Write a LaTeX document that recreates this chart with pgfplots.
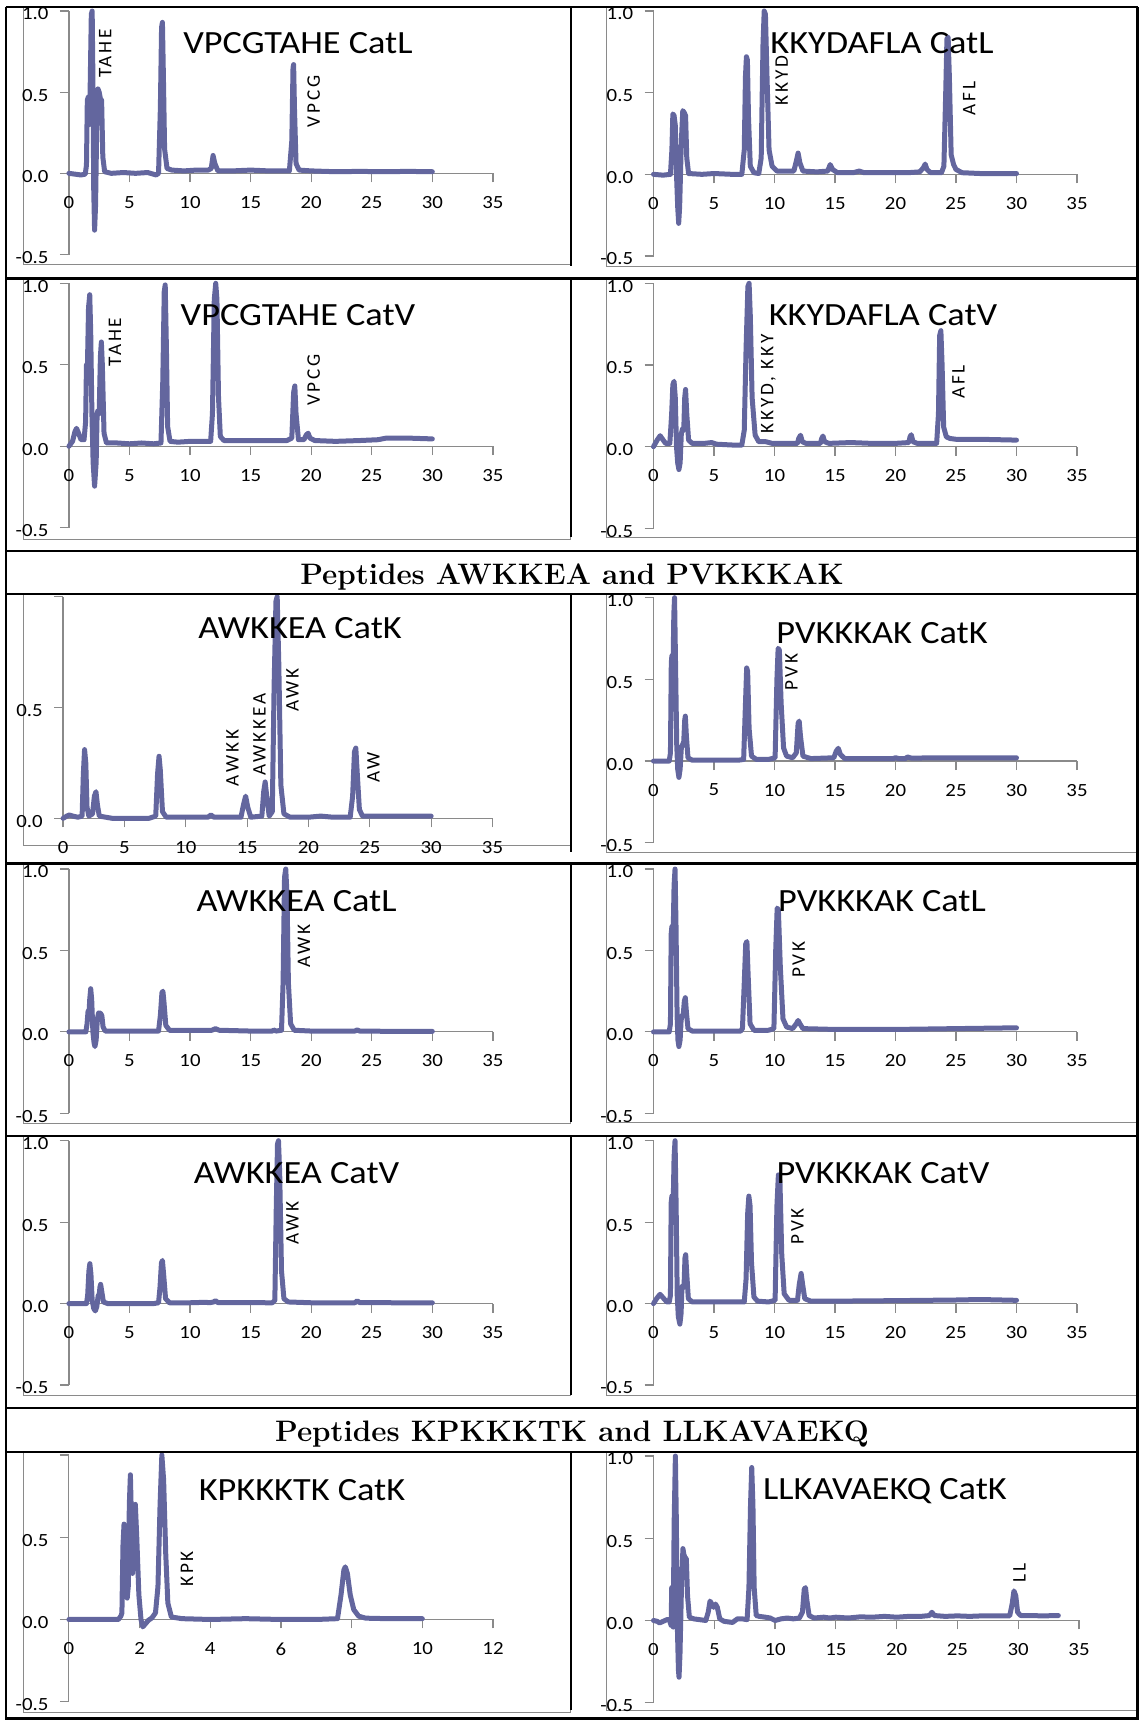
\documentclass[border=0pt]{standalone}
\usepackage{pgfplots}
\pgfplotsset{compat=1.18}
\usepackage{fontspec}
\newfontfamily\excel[FakeStretch=1.12]{Carlito}
\newfontfamily\annotfam[LetterSpace=15]{Carlito}
\definecolor{trace}{RGB}{99,102,158}
\definecolor{axgray}{RGB}{138,138,138}
\pgfplotsset{
  chrom/.style={
    scale only axis, clip=false,
    xmin=0, xmax=35, ymin=-0.5, ymax=1,
    axis x line*=middle, axis y line*=left,
    hide obscured x ticks=false, hide obscured y ticks=false,
    xtick={0,5,...,35}, xticklabels={0,5,10,15,20,25,30,35},
    ytick={-0.5,0,0.5,1}, yticklabels={-0.5,0.0,0.5,1.0},
    tick align=outside, major tick length=4.5pt,
    axis line style={draw=axgray, line width=0.6pt},
    every tick/.style={draw=axgray, line width=0.6pt},
    tick label style={font=\excel\fontsize{9.3}{10}\selectfont, inner sep=0pt},
    yticklabel style={anchor=east, xshift=-5.5pt, yshift=-1.5pt},
    xticklabel style={anchor=north, yshift=-6.8pt},
  },
  tr/.style={trace, line width=2.5pt, line join=round, line cap=round},
}
\tikzset{
  an/.style={rotate=90, anchor=west, inner sep=0pt, font=\annotfam\fontsize{9.6}{10}\selectfont},
  ttl/.style={anchor=base, inner sep=0pt, font=\excel\fontsize{16.2}{18}\selectfont},
  hdr/.style={anchor=base, inner sep=0pt, font=\fontsize{14.8}{17}\selectfont\bfseries},
}
\begin{document}
\begin{tikzpicture}[x=0.5pt,y=-0.5pt]
\useasboundingbox (0,0) rectangle (1139,1720);
% chart area boxes
\begin{scope}[draw=axgray, line width=0.5pt]
\draw (23.5,7) rectangle (570,264);
\draw (606,7) rectangle (1160,266);
\draw (23.5,279) rectangle (570,539);
\draw (606,279) rectangle (1160,537);
\draw (23.5,594) rectangle (570,845);
\draw (606,594) rectangle (1160,852);
\draw (23.5,864) rectangle (570,1123);
\draw (606,864) rectangle (1160,1122);
\draw (23.5,1136) rectangle (570,1395);
\draw (606,1136) rectangle (1160,1395);
\draw (23.5,1452) rectangle (570,1712);
\draw (606,1452) rectangle (1160,1710);
\end{scope}

% ---------- P1 VPCGTAHE CatL
\begin{axis}[chrom, width=212pt, height=121.75pt, at={(34.45pt,-127.25pt)}, anchor=south west]
\addplot[tr] coordinates {(0,0) (0.5,-0.005) (1.0,-0.01) (1.35,-0.005) (1.45,0.05) (1.52,0.45) (1.6,0.47) (1.68,0.3) (1.75,0.5) (1.85,0.98) (1.92,1.0) (1.98,0.6) (2.05,-0.1) (2.12,-0.35) (2.2,-0.2) (2.3,0.3) (2.4,0.52) (2.5,0.5) (2.6,0.46) (2.7,0.45) (2.8,0.1) (2.95,0.01) (3.5,0.0) (4.5,0.005) (5.5,0.0) (6.5,0.005) (7.2,-0.01) (7.4,0.0) (7.55,0.4) (7.65,0.9) (7.72,0.93) (7.8,0.6) (7.9,0.15) (8.1,0.03) (8.5,0.02) (9.5,0.015) (10.5,0.02) (11.5,0.02) (11.75,0.03) (11.9,0.11) (12.05,0.06) (12.3,0.015) (13.5,0.015) (15,0.02) (16.5,0.015) (18.2,0.015) (18.4,0.2) (18.5,0.65) (18.55,0.67) (18.62,0.4) (18.75,0.06) (19,0.02) (20,0.015) (22,0.01) (24,0.012) (26,0.01) (28,0.012) (30,0.01)};
\node[an] at (axis cs:3.0,0.585) {TAHE};
\node[an] at (axis cs:20.2,0.28) {VPCG};
\end{axis}
\node[ttl] at (298,53.3) {VPCGTAHE CatL};

% ---------- P2 KKYDAFLA CatL
\begin{axis}[chrom, width=211.75pt, height=122.5pt, at={(326.75pt,-128pt)}, anchor=south west]
\addplot[tr] coordinates {(0,0) (0.8,-0.005) (1.4,0.0) (1.52,0.15) (1.6,0.37) (1.7,0.36) (1.8,0.3) (1.9,0.0) (2.0,-0.2) (2.08,-0.3) (2.16,-0.2) (2.3,0.2) (2.42,0.39) (2.52,0.38) (2.65,0.36) (2.75,0.1) (2.9,0.005) (4,0.0) (5,0.005) (6.5,0.0) (7.3,0.0) (7.5,0.15) (7.6,0.6) (7.68,0.72) (7.76,0.7) (7.85,0.35) (8.0,0.05) (8.3,0.01) (8.7,0.005) (8.9,0.1) (9.05,0.8) (9.15,1.0) (9.25,0.98) (9.38,0.6) (9.55,0.15) (9.8,0.05) (10.2,0.02) (11.0,0.02) (11.6,0.02) (11.8,0.08) (11.95,0.13) (12.1,0.07) (12.35,0.02) (13.5,0.015) (14.4,0.02) (14.6,0.06) (14.8,0.03) (15.2,0.01) (16.5,0.01) (17.0,0.02) (17.4,0.01) (19,0.01) (21,0.01) (22.0,0.015) (22.3,0.04) (22.45,0.063) (22.6,0.03) (22.9,0.01) (23.8,0.01) (24.0,0.05) (24.15,0.5) (24.25,0.83) (24.35,0.84) (24.45,0.6) (24.6,0.12) (24.8,0.06) (25.0,0.03) (25.5,0.01) (27,0.005) (30,0.005)};
\node[an] at (axis cs:10.6,0.42) {KKYD};
\node[an] at (axis cs:26.1,0.36) {AFL};
\end{axis}
\node[ttl] at (882,53.3) {KKYDAFLA CatL};

% ---------- P3 VPCGTAHE CatV
\begin{axis}[chrom, width=212pt, height=122.2pt, at={(34.45pt,-263.85pt)}, anchor=south west]
\addplot[tr] coordinates {(0,0.0) (0.3,0.03) (0.5,0.09) (0.63,0.11) (0.8,0.08) (1.0,0.04) (1.25,0.04) (1.38,0.15) (1.45,0.5) (1.52,0.45) (1.62,0.85) (1.72,0.93) (1.8,0.7) (1.9,0.2) (2.0,-0.1) (2.12,-0.245) (2.25,-0.1) (2.33,0.2) (2.4,0.22) (2.5,0.2) (2.6,0.55) (2.68,0.64) (2.76,0.5) (2.9,0.08) (3.1,0.02) (4,0.02) (5,0.015) (6,0.02) (7,0.015) (7.6,0.02) (7.75,0.4) (7.87,0.95) (7.95,0.99) (8.05,0.6) (8.15,0.12) (8.35,0.03) (9,0.025) (10,0.03) (11,0.03) (11.7,0.03) (11.85,0.2) (12.0,0.9) (12.12,1.0) (12.22,0.9) (12.35,0.3) (12.5,0.06) (12.8,0.035) (14,0.035) (16,0.035) (18,0.035) (18.4,0.05) (18.55,0.33) (18.65,0.37) (18.75,0.2) (18.95,0.04) (19.4,0.04) (19.6,0.07) (19.75,0.08) (19.9,0.05) (20.3,0.035) (22,0.03) (24,0.035) (25.5,0.04) (26.2,0.05) (28,0.05) (30,0.045)};
\node[an] at (axis cs:3.8,0.486) {TAHE};
\node[an] at (axis cs:20.2,0.245) {VPCG};
\end{axis}
\node[ttl] at (298,325) {VPCGTAHE CatV};

% ---------- P4 KKYDAFLA CatV
\begin{axis}[chrom, width=211.75pt, height=122.5pt, at={(326.75pt,-264.15pt)}, anchor=south west]
\addplot[tr] coordinates {(0,0.0) (0.3,0.04) (0.55,0.067) (0.8,0.04) (1.0,0.02) (1.35,0.02) (1.5,0.2) (1.6,0.38) (1.7,0.40) (1.8,0.3) (1.9,0.0) (2.0,-0.1) (2.1,-0.14) (2.2,-0.1) (2.3,0.08) (2.4,0.11) (2.5,0.1) (2.58,0.3) (2.65,0.35) (2.75,0.2) (2.9,0.04) (3.2,0.02) (4.2,0.02) (4.8,0.025) (5.2,0.015) (6.5,0.01) (7.3,0.01) (7.5,0.1) (7.65,0.6) (7.8,0.98) (7.9,1.0) (8.0,0.8) (8.15,0.3) (8.4,0.07) (8.7,0.03) (9.3,0.03) (9.8,0.02) (11,0.02) (11.9,0.02) (12.0,0.05) (12.15,0.07) (12.3,0.03) (12.6,0.02) (13.8,0.02) (13.9,0.05) (14.0,0.065) (14.15,0.03) (14.5,0.02) (16.3,0.025) (18,0.02) (20,0.02) (21.1,0.025) (21.2,0.06) (21.3,0.073) (21.45,0.03) (21.8,0.02) (23.4,0.02) (23.55,0.2) (23.65,0.68) (23.75,0.71) (23.85,0.5) (23.98,0.12) (24.2,0.06) (24.5,0.05) (25,0.045) (27,0.045) (30,0.04)};
\node[an] at (axis cs:9.5,0.08) {KKYD, KKY};
\node[an] at (axis cs:25.2,0.29) {AFL};
\end{axis}
\node[ttl] at (883,325) {KKYDAFLA CatV};

% ---------- P5 AWKKEA CatK
\begin{axis}[chrom, ymin=0, ytick={0,0.5,1}, yticklabels={0.0,0.5,{}}, width=214.7pt, height=110.8pt, at={(31.55pt,-409.15pt)}, anchor=south west]
\addplot[tr] coordinates {(0,0.0) (0.3,0.01) (0.5,0.015) (0.8,0.01) (1.2,0.005) (1.55,0.01) (1.65,0.2) (1.75,0.31) (1.85,0.25) (1.95,0.05) (2.1,0.01) (2.4,0.02) (2.55,0.1) (2.68,0.12) (2.8,0.06) (2.95,0.01) (4,0.0) (5,0.0) (6,0.0) (7,0.0) (7.55,0.01) (7.7,0.2) (7.82,0.28) (7.92,0.22) (8.1,0.03) (8.4,0.005) (10,0.005) (11.8,0.005) (12.05,0.015) (12.3,0.005) (14.5,0.005) (14.7,0.06) (14.88,0.1) (15.05,0.05) (15.3,0.005) (16.2,0.01) (16.35,0.12) (16.47,0.164) (16.6,0.1) (16.8,0.01) (17.05,0.03) (17.2,0.6) (17.35,0.98) (17.45,1.0) (17.58,0.7) (17.75,0.15) (18.0,0.02) (18.5,0.005) (20,0.005) (21,0.01) (22,0.005) (23.4,0.005) (23.6,0.1) (23.75,0.3) (23.86,0.317) (23.98,0.2) (24.15,0.04) (24.4,0.01) (26,0.01) (28,0.01) (30,0.01)};
\node[an] at (axis cs:13.8,0.144) {AWKK};
\node[an] at (axis cs:16.0,0.19) {AWKKEA};
\node[an] at (axis cs:18.7,0.48) {AWK};
\node[an] at (axis cs:25.3,0.16) {AW};
\end{axis}
\node[ttl] at (300,638) {AWKKEA CatK};

% ---------- P6 PVKKKAK CatK
\begin{axis}[chrom, width=211.75pt, height=122.5pt, at={(326.75pt,-421.35pt)}, anchor=south west]
\addplot[tr] coordinates {(0,0.0) (0.8,0.0) (1.3,0.0) (1.4,0.05) (1.47,0.6) (1.52,0.645) (1.6,0.5) (1.68,0.9) (1.74,1.0) (1.82,0.6) (1.92,0.1) (2.0,-0.05) (2.1,-0.1) (2.2,-0.05) (2.3,0.08) (2.4,0.1) (2.5,0.12) (2.58,0.25) (2.63,0.275) (2.72,0.15) (2.85,0.02) (3.2,0.005) (5,0.005) (7,0.005) (7.45,0.01) (7.6,0.35) (7.7,0.57) (7.78,0.55) (7.9,0.2) (8.1,0.03) (8.5,0.01) (9.5,0.01) (10.05,0.02) (10.2,0.5) (10.3,0.69) (10.4,0.68) (10.55,0.35) (10.75,0.08) (11.0,0.03) (11.5,0.02) (11.8,0.05) (11.95,0.23) (12.04,0.245) (12.15,0.15) (12.35,0.03) (13,0.015) (14.9,0.02) (15.1,0.06) (15.27,0.078) (15.45,0.04) (15.8,0.015) (17,0.015) (19.8,0.015) (20,0.02) (20.3,0.015) (20.8,0.015) (21,0.025) (21.3,0.018) (24,0.02) (27,0.02) (30,0.02)};
\node[an] at (axis cs:11.4,0.43) {PVK};
\end{axis}
\node[ttl] at (882,643.3) {PVKKKAK CatK};

% ---------- P7 AWKKEA CatL
\begin{axis}[chrom, width=212pt, height=122.15pt, at={(34.45pt,-556.65pt)}, anchor=south west]
\addplot[tr] coordinates {(0,0.0) (1.0,0.0) (1.4,0.0) (1.5,0.05) (1.58,0.127) (1.65,0.1) (1.72,0.2) (1.8,0.265) (1.88,0.2) (1.98,0.0) (2.08,-0.07) (2.15,-0.09) (2.25,-0.05) (2.35,0.08) (2.45,0.116) (2.6,0.115) (2.72,0.1) (2.82,0.03) (3.0,0.005) (5,0.005) (7,0.005) (7.4,0.005) (7.55,0.1) (7.68,0.24) (7.76,0.25) (7.85,0.18) (8.0,0.04) (8.3,0.01) (10,0.01) (11.8,0.01) (12.1,0.02) (12.4,0.01) (15,0.005) (16.8,0.005) (16.9,0.012) (17.1,0.005) (17.55,0.01) (17.68,0.3) (17.8,0.95) (17.9,1.0) (18.0,0.85) (18.12,0.3) (18.3,0.05) (18.6,0.01) (20,0.005) (23.6,0.005) (23.8,0.012) (24.0,0.005) (27,0.003) (30,0.003)};
\node[an] at (axis cs:19.4,0.39) {AWK};
\end{axis}
\node[ttl] at (296.6,911.7) {AWKKEA CatL};

% ---------- P8 PVKKKAK CatL
\begin{axis}[chrom, width=211.75pt, height=122.15pt, at={(326.75pt,-556.65pt)}, anchor=south west]
\addplot[tr] coordinates {(0,0.0) (1.0,0.0) (1.3,0.0) (1.4,0.05) (1.46,0.6) (1.52,0.647) (1.6,0.5) (1.7,0.9) (1.78,1.0) (1.86,0.65) (1.95,0.1) (2.02,-0.05) (2.1,-0.09) (2.2,-0.05) (2.28,0.07) (2.35,0.1) (2.45,0.1) (2.55,0.19) (2.63,0.21) (2.72,0.12) (2.85,0.02) (3.2,0.005) (5,0.005) (7.2,0.005) (7.35,0.02) (7.5,0.3) (7.62,0.54) (7.72,0.555) (7.82,0.35) (7.98,0.05) (8.3,0.01) (9.5,0.01) (9.95,0.02) (10.1,0.5) (10.22,0.76) (10.32,0.75) (10.48,0.4) (10.7,0.08) (11.0,0.03) (11.5,0.02) (11.8,0.05) (11.95,0.07) (12.1,0.05) (12.35,0.02) (15,0.015) (20,0.015) (25,0.02) (30,0.025)};
\node[an] at (axis cs:12.0,0.33) {PVK};
\end{axis}
\node[ttl] at (882,911.7) {PVKKKAK CatL};

% ---------- P9 AWKKEA CatV
\begin{axis}[chrom, width=212pt, height=122.15pt, at={(34.45pt,-692.5pt)}, anchor=south west]
\addplot[tr] coordinates {(0,0.0) (1.0,0.0) (1.45,0.0) (1.55,0.05) (1.65,0.2) (1.73,0.245) (1.82,0.18) (1.92,0.02) (2.05,-0.03) (2.18,-0.045) (2.3,-0.02) (2.42,0.05) (2.5,0.05) (2.56,0.1) (2.62,0.118) (2.7,0.08) (2.85,0.01) (3.2,0.0) (5,0.0) (7,0.0) (7.4,0.005) (7.52,0.1) (7.64,0.25) (7.72,0.265) (7.82,0.18) (7.98,0.03) (8.3,0.005) (10,0.005) (11.3,0.008) (11.6,0.005) (11.95,0.01) (12.1,0.018) (12.3,0.006) (16.8,0.005) (17.0,0.02) (17.12,0.6) (17.22,0.98) (17.3,1.0) (17.4,0.8) (17.55,0.2) (17.75,0.03) (18.1,0.01) (20,0.005) (23.6,0.005) (23.8,0.017) (24.0,0.006) (27,0.005) (30,0.005)};
\node[an] at (axis cs:18.45,0.36) {AWK};
\end{axis}
\node[ttl] at (296.6,1183.3) {AWKKEA CatV};

% ---------- P10 PVKKKAK CatV
\begin{axis}[chrom, width=211.75pt, height=122.15pt, at={(326.75pt,-692.5pt)}, anchor=south west]
\addplot[tr] coordinates {(0,0.0) (0.25,0.03) (0.54,0.057) (0.8,0.035) (1.1,0.01) (1.3,0.01) (1.4,0.05) (1.46,0.62) (1.52,0.66) (1.6,0.5) (1.7,0.9) (1.78,1.0) (1.87,0.6) (1.96,0.05) (2.05,-0.08) (2.18,-0.126) (2.28,-0.06) (2.35,0.1) (2.42,0.11) (2.52,0.1) (2.6,0.28) (2.66,0.30) (2.75,0.18) (2.88,0.03) (3.2,0.01) (5,0.01) (7,0.01) (7.5,0.01) (7.65,0.15) (7.78,0.55) (7.88,0.66) (7.98,0.6) (8.1,0.25) (8.3,0.04) (8.6,0.015) (9.5,0.01) (10.05,0.02) (10.2,0.6) (10.32,0.79) (10.45,0.75) (10.6,0.3) (10.8,0.06) (11.2,0.02) (11.9,0.02) (12.05,0.12) (12.2,0.185) (12.32,0.12) (12.5,0.03) (13,0.015) (15,0.015) (20,0.018) (25,0.022) (27,0.025) (30,0.02)};
\node[an] at (axis cs:11.9,0.36) {PVK};
\end{axis}
\node[ttl] at (883,1183.3) {PVKKKAK CatV};

% ---------- P11 KPKKKTK CatK
\begin{axis}[chrom, xmax=12, xtick={0,2,...,12}, xticklabels={0,2,4,6,8,10,12}, yticklabels={-0.5,0.0,0.5,{}}, width=212.05pt, height=123.35pt, at={(34.45pt,-850.85pt)}, anchor=south west]
\addplot[tr] coordinates {(0,0.0) (0.5,0.0) (1.0,0.0) (1.4,0.0) (1.47,0.02) (1.5,0.04) (1.53,0.45) (1.56,0.58) (1.6,0.4) (1.65,0.13) (1.68,0.2) (1.71,0.7) (1.74,0.88) (1.77,0.6) (1.8,0.28) (1.84,0.6) (1.88,0.70) (1.92,0.5) (1.98,0.15) (2.04,0.0) (2.09,-0.045) (2.15,-0.03) (2.25,-0.005) (2.35,0.01) (2.45,0.04) (2.52,0.2) (2.58,0.7) (2.63,1.0) (2.68,0.85) (2.74,0.4) (2.8,0.1) (2.9,0.015) (3.2,0.005) (4,0.0) (5,0.005) (6,0.0) (7,0.0) (7.6,0.005) (7.7,0.15) (7.78,0.3) (7.82,0.32) (7.88,0.28) (7.96,0.15) (8.06,0.06) (8.2,0.02) (8.4,0.008) (9,0.005) (10,0.005)};
\node[an] at (axis cs:3.34,0.196) {KPK};
\end{axis}
\node[ttl] at (302,1500.7) {KPKKKTK CatK};

% ---------- P12 LLKAVAEKQ CatK
\begin{axis}[chrom, width=212.75pt, height=123.35pt, at={(326.75pt,-851.35pt)}, anchor=south west]
\addplot[tr] coordinates {(0,0.0) (0.3,-0.005) (0.5,-0.015) (0.8,-0.005) (1.1,0.005) (1.3,0.005) (1.45,-0.03) (1.5,0.2) (1.55,0.05) (1.62,-0.04) (1.7,0.6) (1.8,1.0) (1.88,0.6) (1.95,0.0) (2.05,-0.3) (2.1,-0.345) (2.18,-0.2) (2.3,0.2) (2.42,0.437) (2.5,0.4) (2.62,0.38) (2.7,0.376) (2.8,0.15) (2.95,0.02) (3.3,0.01) (3.8,0.005) (4.3,0.0) (4.5,0.05) (4.65,0.118) (4.8,0.1) (4.95,0.08) (5.1,0.1) (5.25,0.08) (5.45,0.01) (5.8,-0.005) (6.3,-0.01) (6.5,-0.012) (6.9,0.01) (7.3,0.01) (7.7,0.005) (7.85,0.2) (7.98,0.7) (8.08,0.93) (8.18,0.7) (8.28,0.2) (8.45,0.03) (8.7,0.025) (9.2,0.02) (9.6,0.015) (10.0,0.0) (10.5,0.01) (11,0.015) (11.5,0.01) (12.0,0.015) (12.25,0.05) (12.4,0.19) (12.5,0.2) (12.62,0.12) (12.8,0.03) (13.2,0.015) (14,0.02) (14.5,0.015) (15,0.02) (16,0.015) (17,0.022) (18,0.02) (19,0.025) (20,0.02) (21,0.025) (22,0.025) (22.7,0.03) (22.9,0.05) (23.1,0.03) (24,0.025) (25,0.028) (26,0.025) (27,0.028) (28,0.028) (29.3,0.028) (29.5,0.1) (29.65,0.18) (29.8,0.15) (29.95,0.05) (30.2,0.03) (31,0.03) (32,0.028) (33.3,0.03)};
\node[an] at (axis cs:30.1,0.23) {LL};
\end{axis}
\node[ttl] at (885,1499) {LLKAVAEKQ CatK};

% headers
\node[hdr] at (572,584) {Peptides AWKKEA and PVKKKAK};
\node[hdr] at (572,1441.7) {Peptides KPKKKTK and LLKAVAEKQ};

% black frame
\begin{scope}[line width=1.2pt]
\foreach \y in {7,278.5,551,594,863.5,1136,1408,1452,1718.5} \draw (5.7,\y) -- (1137.5,\y);
\draw (5.7,7) -- (5.7,1720);
\draw (1137.5,7) -- (1137.5,1720);
\end{scope}
\begin{scope}[line width=0.9pt]
\draw (571,7) -- (571,266);
\draw (571,278.5) -- (571,537);
\draw (571,594) -- (571,852);
\draw (571,863.5) -- (571,1122);
\draw (571,1136) -- (571,1395);
\draw (571,1452) -- (571,1710);
\end{scope}
\end{tikzpicture}
\end{document}
